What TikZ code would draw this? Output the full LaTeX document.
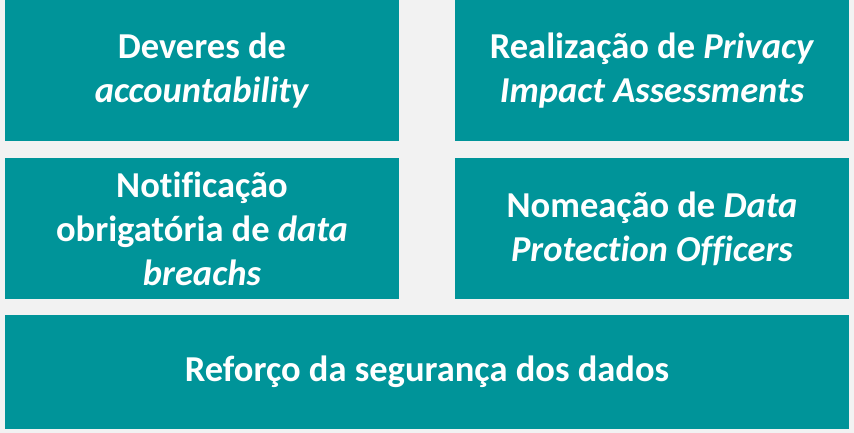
\documentclass[tikz,border=0pt]{standalone}
\usepackage{fontspec}
\setmainfont{Carlito}[Ligatures=NoCommon]
\usetikzlibrary{positioning}
\definecolor{tealbox}{RGB}{0,148,153}
\definecolor{paper}{RGB}{242,242,242}
\tikzset{
  card/.style={fill=tealbox,text=white,inner sep=0pt,
    minimum width=394pt,minimum height=141pt,align=center,
    font=\fontsize{36.5}{44}\selectfont\bfseries}
}
\newcommand*{\ital}[1]{\textit{#1}}

\begin{document}
\begin{tikzpicture}[x=1pt,y=1pt]
% Page and background
\fill[paper] (0,0) rectangle (854,-433);
\useasboundingbox (0,0) rectangle (854,-433);

% Top row
\node[card] (acc) at (202,-70.5) {Deveres de\\\ital{accountability}};
\node[card] (pia) at (652,-70.5) {Realização de \ital{Privacy}\\\ital{Impact Assessments}};

% Middle row
\node[card] (breach) at (202,-228.5) {Notificação\\obrigatória de \ital{data}\\\ital{breachs}};
\node[card] (dpo) at (652,-228.5) {Nomeação de \ital{Data}\\\ital{Protection Officers}};

% Bottom bar
\node[card,minimum width=844pt,minimum height=114pt] (sec) at (427,-372)
  {Reforço da segurança dos dados};
\end{tikzpicture}
\end{document}
